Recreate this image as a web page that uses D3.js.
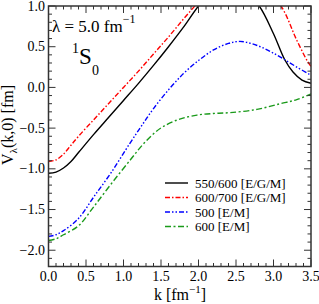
<!DOCTYPE html>
<html>
<head>
<meta charset="utf-8">
<script src="https://cdnjs.cloudflare.com/ajax/libs/d3/7.8.5/d3.min.js"></script>
<style>
  body { margin: 0; background: #fff; }
  svg text { font-family: "Liberation Serif", "DejaVu Serif"; }
</style>
</head>
<body>
<svg id="chart" width="319" height="304"></svg>
<script>
// values, V_lambda(k,0) in fm
const kBlack = [0, 0.1, 0.2, 0.3, 0.4, 0.6, 0.8, 1.0, 1.2, 1.4, 1.6, 1.8, 2.0, 2.2, 2.4, 2.6, 2.81, 3.0, 3.15, 3.26, 3.38, 3.5];
const vBlack = [-1.055, -1.04, -0.99, -0.91, -0.8, -0.58, -0.37, -0.16, 0.05, 0.27, 0.5, 0.74, 1.0, 1.2, 1.3, 1.2, 1.0, 0.66, 0.34, 0.19, 0.09, 0.05];

const kRed = [0, 0.1, 0.2, 0.3, 0.4, 0.6, 0.8, 1.0, 1.2, 1.4, 1.6, 1.8, 2.0, 2.2, 2.5, 2.8, 3.1, 3.31, 3.46, 3.5];
const vRed = [-0.91, -0.89, -0.82, -0.71, -0.6, -0.4, -0.2, 0.0, 0.2, 0.41, 0.62, 0.84, 1.05, 1.25, 1.4, 1.3, 1.0, 0.58, 0.31, 0.26];

const kBlue = [0, 0.1, 0.2, 0.4, 0.6, 0.84, 1.09, 1.25, 1.4, 1.6, 1.8, 2.0, 2.2, 2.4, 2.55, 2.7, 2.85, 3.0, 3.15, 3.31, 3.5];
const vBlue = [-1.83, -1.81, -1.76, -1.61, -1.35, -1.04, -0.68, -0.46, -0.26, -0.03, 0.17, 0.33, 0.46, 0.54, 0.565, 0.54, 0.49, 0.42, 0.34, 0.25, 0.15];

const kGreen = [0, 0.1, 0.2, 0.4, 0.6, 0.84, 1.1, 1.25, 1.4, 1.53, 1.75, 1.98, 2.2, 2.42, 2.78, 3.09, 3.31, 3.5];
const vGreen = [-1.88, -1.86, -1.81, -1.7, -1.47, -1.18, -0.88, -0.71, -0.57, -0.48, -0.39, -0.34, -0.32, -0.31, -0.27, -0.2, -0.15, -0.08];

const seriesNames = ["550/600 [E/G/M]", "600/700 [E/G/M]", "500 [E/M]", "600 [E/M]"];
const xTicks = [0, 0.5, 1, 1.5, 2, 2.5, 3, 3.5];
const yTicks = [-2, -1.5, -1, -0.5, 0, 0.5, 1];

const svg = d3.select("#chart");
const padL = 48.5, padR = 311, padT = 6, padB = 266.5;

const x = d3.scaleLinear().domain([0, 3.5]).range([padL, padR]);
const y = d3.scaleLinear().domain([-2.2, 1.0]).range([padB, padT]);

const styles = [
  { color: "#000000", dash: null },
  { color: "#ff0000", dash: "5,2,1.5,2" },
  { color: "#0000ff", dash: "5,2,1.5,2,1.5,2" },
  { color: "#1a9a1a", dash: "6,2.5,2,2.5" }
];

svg.append("clipPath").attr("id", "clip")
  .append("rect").attr("x", padL).attr("y", padT)
  .attr("width", padR - padL).attr("height", padB - padT);

const line = d3.line()
  .x(d => x(d[0])).y(d => y(d[1]))
  .curve(d3.curveCatmullRom.alpha(0.5));

const series = [
  d3.zip(kBlack, vBlack),
  d3.zip(kRed, vRed),
  d3.zip(kBlue, vBlue),
  d3.zip(kGreen, vGreen)
];

const g = svg.append("g").attr("clip-path", "url(#clip)");
series.forEach((pts, i) => {
  g.append("path")
    .attr("d", line(pts))
    .attr("fill", "none")
    .attr("stroke", styles[i].color)
    .attr("stroke-width", 1.4)
    .attr("stroke-dasharray", styles[i].dash);
});

// axes: inward ticks on all four sides
function tickSet(step, lo, hi) {
  return d3.range(Math.round(lo / step), Math.round(hi / step) + 1).map(v => v * step);
}
const xMinor = tickSet(0.1, 0, 3.5);
const yMinor = tickSet(0.1, -2.2, 1.0);

const axisG = svg.append("g").attr("stroke", "#333").attr("stroke-width", 1);
function isMajor(v) { return Math.abs(v * 2 - Math.round(v * 2)) < 1e-6; }

xMinor.forEach(v => {
  const len = isMajor(v) ? 7 : 3.5;
  axisG.append("line").attr("x1", x(v)).attr("x2", x(v)).attr("y1", padB).attr("y2", padB - len);
  axisG.append("line").attr("x1", x(v)).attr("x2", x(v)).attr("y1", padT).attr("y2", padT + len);
});
yMinor.forEach(v => {
  const len = isMajor(v) ? 7 : 3.5;
  axisG.append("line").attr("y1", y(v)).attr("y2", y(v)).attr("x1", padL).attr("x2", padL + len);
  axisG.append("line").attr("y1", y(v)).attr("y2", y(v)).attr("x1", padR).attr("x2", padR - len);
});

svg.append("rect")
  .attr("x", padL).attr("y", padT)
  .attr("width", padR - padL).attr("height", padB - padT)
  .attr("fill", "none").attr("stroke", "#333").attr("stroke-width", 1.5);

const fmt = d3.format(".1f");
const minus = s => s.replace("-", "\u2212");

svg.selectAll(".xl").data(xTicks).join("text")
  .attr("x", d => x(d)).attr("y", 281)
  .attr("text-anchor", "middle").attr("font-size", 14)
  .text(d => fmt(d));

svg.selectAll(".yl").data(yTicks).join("text")
  .attr("x", 45).attr("y", d => y(d) + 4.5)
  .attr("text-anchor", "end").attr("font-size", 14)
  .text(d => minus(fmt(d)));

// axis titles
const xt = svg.append("text").attr("x", 180).attr("y", 300)
  .attr("text-anchor", "middle").attr("font-size", 16);
xt.append("tspan").text("k [fm");
xt.append("tspan").attr("dy", -7).attr("font-size", 11).text("\u22121");
xt.append("tspan").attr("dy", 7).text("]");

const yt = svg.append("text")
  .attr("transform", "translate(13,125) rotate(-90)")
  .attr("text-anchor", "middle").attr("font-size", 16);
yt.append("tspan").text("V");
yt.append("tspan").attr("dy", 4).attr("font-size", 11).text("\u03bb");
yt.append("tspan").attr("dy", -4).text("(k,0) [fm]");

// annotations
const lam = svg.append("text").attr("x", 52).attr("y", 32).attr("font-size", 17);
lam.append("tspan").text("\u03bb = 5.0 fm");
lam.append("tspan").attr("dy", -9).attr("font-size", 12).text("\u22121");

svg.append("text").attr("x", 72).attr("y", 53).attr("font-size", 14).text("1");
svg.append("text").attr("x", 79).attr("y", 64).attr("font-size", 23).text("S");
svg.append("text").attr("x", 92).attr("y", 75).attr("font-size", 14).text("0");

// legend
const legY = [183, 197.5, 212, 226.5];
seriesNames.forEach((name, i) => {
  svg.append("line")
    .attr("x1", 165).attr("x2", 188)
    .attr("y1", legY[i]).attr("y2", legY[i])
    .attr("stroke", styles[i].color).attr("stroke-width", 1.4)
    .attr("stroke-dasharray", styles[i].dash);
  svg.append("text").attr("x", 195).attr("y", legY[i] + 4.5)
    .attr("font-size", 13).text(name);
});
</script>
</body>
</html>
